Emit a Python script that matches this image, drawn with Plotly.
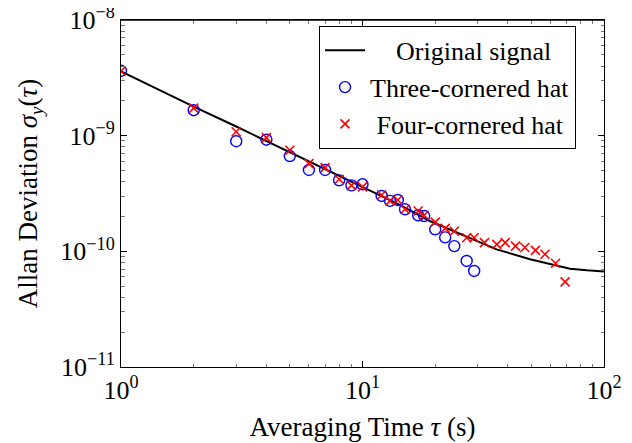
import plotly.graph_objects as go

# Original signal (black line)
line_tau = [1, 2, 3, 5, 7, 10, 14, 19, 25.3, 35.9, 49.4, 59.7, 72.3, 85, 100]
line_adev = [3.6e-9, 1.78e-9, 1.2e-9, 7.2e-10, 5.18e-10, 3.6e-10, 2.57e-10, 1.83e-10,
             1.41e-10, 1.04e-10, 8.55e-11, 7.74e-11, 7.08e-11, 6.85e-11, 6.7e-11]

# Three-cornered hat (blue circles)
tch_tau = [1, 2, 3, 4, 5, 6, 7, 8, 9, 10, 12, 13, 14, 15, 17, 18, 20, 22, 24, 27, 29]
tch_adev = [3.64e-9, 1.66e-9, 8.95e-10, 9.23e-10, 6.67e-10, 5.05e-10, 5.05e-10, 4.11e-10,
            3.72e-10, 3.80e-10, 3.01e-10, 2.73e-10, 2.78e-10, 2.31e-10, 2.05e-10, 2.02e-10,
            1.55e-10, 1.32e-10, 1.11e-10, 8.26e-11, 6.77e-11]

# Four-cornered hat (red crosses)
fch_tau = [1, 2, 3, 4, 5, 6, 7, 8, 9, 10, 12, 13, 14, 15, 17, 18, 20, 22, 24, 27, 29,
           32, 36, 39, 43, 47, 52, 57, 63, 69]
fch_adev = [3.62e-9, 1.73e-9, 1.08e-9, 9.62e-10, 7.48e-10, 5.73e-10, 5.29e-10, 4.20e-10,
            3.72e-10, 3.61e-10, 3.07e-10, 2.73e-10, 2.78e-10, 2.31e-10, 2.23e-10, 2.05e-10,
            1.79e-10, 1.58e-10, 1.49e-10, 1.31e-10, 1.31e-10, 1.19e-10, 1.15e-10, 1.19e-10,
            1.11e-10, 1.08e-10, 1.02e-10, 9.44e-11, 7.89e-11, 5.44e-11]

x_ticks = [1, 10, 100]
x_ticktext = ["10<sup>0</sup>", "10<sup>1</sup>", "10<sup>2</sup>"]
y_ticks = [1e-11, 1e-10, 1e-9, 1e-8]
y_ticktext = ["10<sup>−11</sup>", "10<sup>−10</sup>", "10<sup>−9</sup>", "10<sup>−8</sup>"]

FONT = "Liberation Serif, Times New Roman, serif"
NB = "\u00a0"

fig = go.Figure()
fig.add_trace(go.Scatter(x=line_tau, y=line_adev, mode="lines",
                         name=NB * 4 + "Original signal",
                         line=dict(color="black", width=2)))
fig.add_trace(go.Scatter(x=tch_tau, y=tch_adev, mode="markers",
                         name="Three-cornered hat",
                         marker=dict(symbol="circle-open", size=11, color="blue",
                                     line=dict(width=1.4, color="blue"))))
fig.add_trace(go.Scatter(x=fch_tau, y=fch_adev, mode="markers",
                         name=NB + "Four-cornered hat",
                         marker=dict(symbol="x-thin-open", size=9, color="red",
                                     line=dict(width=1.6, color="red"))))

minor_x = [2, 3, 4, 5, 6, 7, 8, 9, 20, 30, 40, 50, 60, 70, 80, 90]
minor_y = [m * 10.0 ** e for e in (-11, -10, -9) for m in range(2, 10)]

fig.update_layout(
    width=632, height=443,
    margin=dict(l=113, r=36, t=12, b=84),
    paper_bgcolor="white", plot_bgcolor="white",
    font=dict(family=FONT, size=25, color="black"),
    showlegend=True,
    legend=dict(x=0.41, xanchor="left", y=0.983, yanchor="top",
                bgcolor="white", bordercolor="black", borderwidth=1,
                font=dict(family=FONT, size=26, color="black"),
                tracegroupgap=0, itemwidth=40),
    shapes=[dict(type="line", xref="paper", yref="paper", x0=0, x1=1, y0=1, y1=1,
                 line=dict(color="black", width=1.3), layer="above")],
    xaxis=dict(type="log", range=[0, 2], showgrid=False, zeroline=False, automargin=False,
               showline=True, linecolor="black", linewidth=1, mirror="allticks",
               ticks="inside", ticklen=6, tickcolor="black",
               tickmode="array", tickvals=x_ticks, ticktext=x_ticktext,
               tickfont=dict(family=FONT, size=26),
               ticklabeloverflow="allow",
               minor=dict(tickmode="array", tickvals=minor_x, ticks="inside",
                          ticklen=3.5, tickcolor="#777", showgrid=False),
               title=dict(text="Averaging Time <i>τ</i> (s)", font=dict(family=FONT, size=27),
                          standoff=12)),
    yaxis=dict(type="log", range=[-11, -8], showgrid=False, zeroline=False, automargin=False,
               showline=True, linecolor="black", linewidth=1, mirror="allticks",
               ticks="inside", ticklen=6, tickcolor="black",
               tickmode="array", tickvals=y_ticks, ticktext=y_ticktext,
               tickfont=dict(family=FONT, size=26), ticklabeloverflow="allow",
               minor=dict(tickmode="array", tickvals=minor_y, ticks="inside",
                          ticklen=3.5, tickcolor="#777", showgrid=False),
               title=dict(text="Allan Deviation <i>σ</i><sub><i>y</i></sub>(<i>τ</i>)",
                          font=dict(family=FONT, size=27), standoff=14)),
)

fig.write_html("out.html", config={"displayModeBar": False})
